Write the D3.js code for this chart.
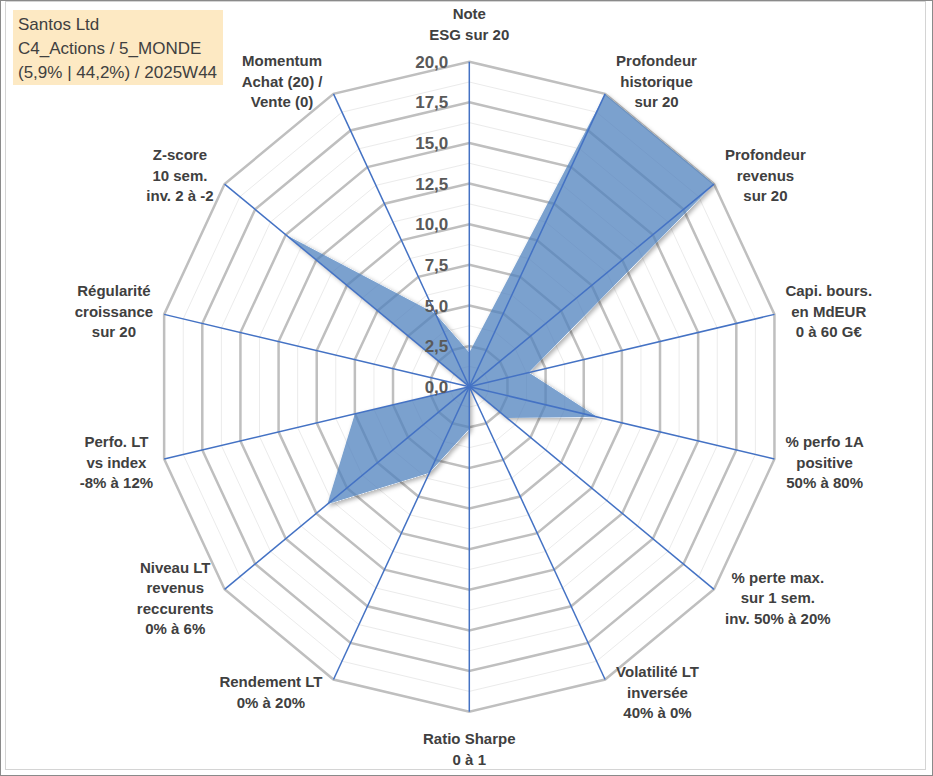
<!DOCTYPE html>
<html>
<head>
  <title>Santos Ltd radar</title>
  <script type="text/javascript" src="https://d3js.org/d3.v7.min.js"></script>
  <style type="text/css">
    body {
      margin: 0px;
      background: #fff;
    }
    svg text {
      font-family: "Liberation Sans", Arial, sans-serif;
    }
  </style>
</head>
<body>
  <svg width="933" height="776"></svg>
  <script type="text/javascript">
    // axis labels, clockwise from the top
    var categories = [
      "Note\nESG sur 20",
      "Profondeur\nhistorique\nsur 20",
      "Profondeur\nrevenus\nsur 20",
      "Capi. bours.\nen MdEUR\n0 à 60 G€",
      "% perfo 1A\npositive\n50% à 80%",
      "% perte max.\nsur 1 sem.\ninv. 50% à 20%",
      "Volatilité LT\ninversée\n40% à 0%",
      "Ratio Sharpe\n0 à 1",
      "Rendement LT\n0% à 20%",
      "Niveau LT\nrevenus\nreccurents\n0% à 6%",
      "Perfo. LT\nvs index\n-8% à 12%",
      "Régularité\ncroissance\nsur 20",
      "Z-score\n10 sem.\ninv. 2 à -2",
      "Momentum\nAchat (20) /\nVente (0)"
    ];
    var values = [2.1, 20, 20, 3.9, 8.4, 3.1, 0, 2.6, 5.9, 11.6, 7.5, 0, 15.0, 5.0];
    var ticks = [0, 2.5, 5, 7.5, 10, 12.5, 15, 17.5, 20];
    var minorTicks = [1.25, 3.75, 6.25, 8.75, 11.25, 13.75, 16.25, 18.75];
    var titleLines = ["Santos Ltd", "C4_Actions / 5_MONDE", "(5,9% | 44,2%) / 2025W44"];

    var svg = d3.select("svg");
    var cx = 469.3, cy = 386.7;
    // the picture is a little narrower than tall
    var rx = d3.scaleLinear().domain([0, 20]).range([0, 313]);
    var ry = d3.scaleLinear().domain([0, 20]).range([0, 325]);
    var n = categories.length;
    var angle = d3.scaleLinear().domain([0, n]).range([0, 2 * Math.PI]);

    var fr = d3.formatLocale({decimal: ",", thousands: " ", grouping: [3], currency: ["", "€"]});
    var fmt = fr.format(".1f");

    function pt(i, v){
      var a = angle(i);
      return [cx + Math.sin(a) * rx(v), cy - Math.cos(a) * ry(v)];
    }
    function ring(v){
      return d3.range(n).map(function(i){ return pt(i, v); });
    }
    var line = d3.line().curve(d3.curveLinearClosed);

    // frames
    svg.append("rect").attr("x", 0.5).attr("y", 0.5).attr("width", 932).attr("height", 775)
      .attr("fill", "none").attr("stroke", "#8a8a8a");
    svg.append("rect").attr("x", 5.5).attr("y", 1.5).attr("width", 920).attr("height", 768)
      .attr("fill", "#fff").attr("stroke", "#d4d4d4");

    // shadow only outside the shape, so the see-through fill keeps its tint
    var f = svg.append("defs").append("filter").attr("id", "shadow")
      .attr("x", "-10%").attr("y", "-10%").attr("width", "130%").attr("height", "130%");
    f.append("feComponentTransfer").attr("in", "SourceAlpha").attr("result", "solid")
      .append("feFuncA").attr("type", "linear").attr("slope", 10);
    f.append("feGaussianBlur").attr("in", "solid").attr("stdDeviation", 2).attr("result", "blur");
    f.append("feOffset").attr("in", "blur").attr("dx", 2).attr("dy", 2).attr("result", "off");
    f.append("feComposite").attr("in", "off").attr("in2", "solid").attr("operator", "out").attr("result", "sh");
    f.append("feFlood").attr("flood-color", "#000").attr("flood-opacity", 0.3).attr("result", "col");
    f.append("feComposite").attr("in", "col").attr("in2", "sh").attr("operator", "in").attr("result", "shc");
    var merge = f.append("feMerge");
    merge.append("feMergeNode").attr("in", "shc");
    merge.append("feMergeNode").attr("in", "SourceGraphic");

    // grid
    svg.append("g").selectAll("path").data(minorTicks).join("path")
      .attr("d", function(v){ return line(ring(v)); })
      .attr("fill", "none").attr("stroke", "#ebebeb").attr("stroke-width", 1);
    svg.append("g").selectAll("path").data(ticks.filter(function(t){ return t > 0; })).join("path")
      .attr("d", function(v){ return line(ring(v)); })
      .attr("fill", "none").attr("stroke", "#bfbfbf").attr("stroke-width", 2.5)
      .attr("stroke-linejoin", "miter");

    // series
    svg.append("path")
      .attr("d", line(values.map(function(v, i){ return pt(i, v); })))
      .attr("fill", "rgb(79,129,189)").attr("fill-opacity", 0.75)
      .attr("filter", "url(#shadow)");

    // spokes
    svg.append("g").selectAll("line").data(d3.range(n)).join("line")
      .attr("x1", cx).attr("y1", cy)
      .attr("x2", function(i){ return pt(i, 20)[0]; })
      .attr("y2", function(i){ return pt(i, 20)[1]; })
      .attr("stroke", "#4472c4").attr("stroke-width", 1.5);

    // tick labels
    svg.append("g").selectAll("text").data(ticks).join("text")
      .attr("x", cx - 21)
      .attr("y", function(v){ return cy - ry(v); })
      .attr("dy", "0.36em")
      .attr("text-anchor", "end")
      .attr("font-size", 17).attr("font-weight", "bold").attr("fill", "#595959")
      .text(function(v){ return fmt(v); });

    // category labels
    var lh = 20.5;
    categories.forEach(function(c, i){
      var lines = c.split("\n");
      var a = angle(i), sx = Math.sin(a), sy = -Math.cos(a);
      var p = pt(i, 20);
      var g = svg.append("g");
      var t = g.selectAll("text").data(lines).join("text")
        .attr("font-size", 15).attr("font-weight", "bold").attr("fill", "#404040")
        .attr("text-anchor", "middle").attr("dy", "0.36em")
        .text(function(d){ return d; });
      var w = d3.max(t.nodes(), function(nd){ return nd.getComputedTextLength(); });
      var h = lines.length * lh;
      var bx, by;
      if (Math.abs(sx) < 0.01){
        bx = p[0];
        by = p[1] + sy * (h / 2 + 17);
      } else {
        bx = p[0] + Math.sign(sx) * (11 + w / 2);
        by = p[1] + sy * 14;
      }
      t.attr("x", bx)
        .attr("y", function(d, k){ return by + (k - (lines.length - 1) / 2) * lh; });
    });

    // title box
    var title = svg.append("g");
    title.append("rect").attr("x", 13).attr("y", 10).attr("width", 210).attr("height", 75).attr("fill", "#fde9c3");
    title.selectAll("text").data(titleLines).join("text")
      .attr("x", 18)
      .attr("y", function(d, k){ return 30 + k * 24; })
      .attr("font-family", "'Open Sans', sans-serif")
      .attr("font-size", 17).attr("fill", "#404040")
      .text(function(d){ return d; });
  </script>
</body>
</html>
